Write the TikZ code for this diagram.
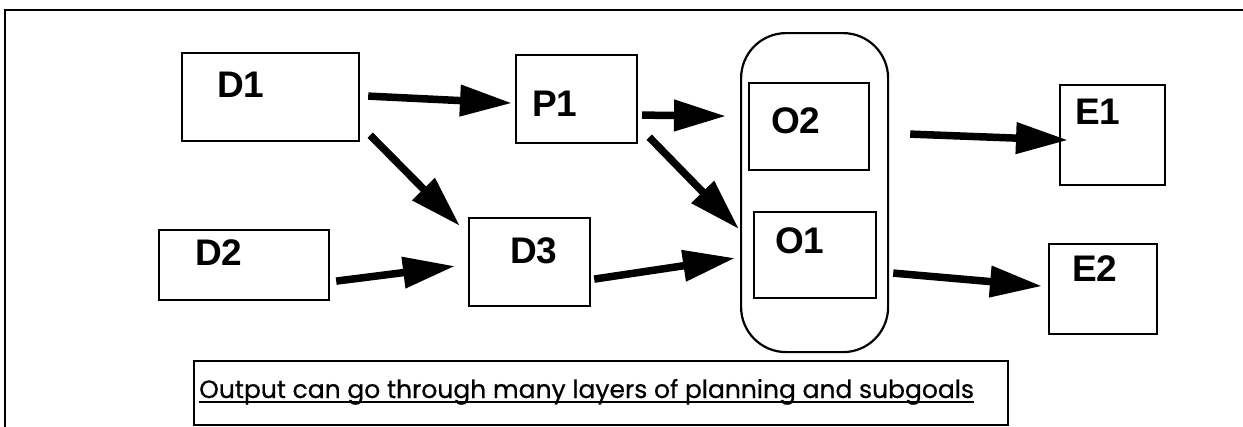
\documentclass[tikz,border=0pt]{standalone}
\usepackage{fontspec}
\setmainfont{Liberation Sans}
\newfontfamily\capfont[FakeBold=0.6]{Poppins}
\usetikzlibrary{arrows.meta,calc}
\begin{document}
\begin{tikzpicture}[x=1pt,y=-1pt,
  box/.style={draw,line width=2.2pt,inner sep=0pt,anchor=north west},
  lbl/.style={anchor=base west,inner sep=0pt,font=\fontsize{37}{40}\selectfont\bfseries},
  arr/.style={line width=7.5pt,-{Triangle[length=52pt,width=30pt]}}]
\useasboundingbox (0,0) rectangle (1243,426);
% outer frame (left and top edges visible)
\draw[line width=2.5pt] (5,440) -- (5,10) -- (1260,10);
% boxes
\node[box,minimum width=177pt,minimum height=88pt] (D1) at (181,52) {};
\node[box,minimum width=121pt,minimum height=88pt] (P1) at (515,54) {};
\node[box,minimum width=147pt,minimum height=319pt,rounded corners=45pt] (C) at (740,32) {};
\node[box,minimum width=120pt,minimum height=87pt] (O2) at (748,82) {};
\node[box,minimum width=122pt,minimum height=86pt] (O1) at (753,211) {};
\node[box,minimum width=121pt,minimum height=88pt] (D3) at (468,217) {};
\node[box,minimum width=170pt,minimum height=70pt] (D2) at (158,229) {};
\node[box,minimum width=105pt,minimum height=100pt] (E1) at (1059,84) {};
\node[box,minimum width=108pt,minimum height=90pt] (E2) at (1048,243) {};
\node[box,minimum width=814pt,minimum height=64pt] (Cap) at (193,360) {};
% labels
\node[lbl] (tD1) at (217,97) {D1};
\node[lbl] (tP1) at (532,116) {P1};
\node[lbl] (tO2) at (771,133) {O2};
\node[lbl] (tO1) at (775,253) {O1};
\node[lbl] (tD3) at (510,263) {D3};
\node[lbl] (tD2) at (195,265) {D2};
\node[lbl] (tE1) at (1075,124) {E1};
\node[lbl] (tE2) at (1072,281) {E2};
\node[anchor=base west,inner sep=0pt,font=\capfont\fontsize{25}{28}\selectfont] (tCap) at (199,398) {Output can go through many layers of planning and subgoals};
\draw[line width=2pt] ([yshift=-3.5pt]tCap.base west) -- ([yshift=-3.5pt]tCap.base east);
% arrows
\draw[arr] ($(D1.east)+(8,-1)$) -- ($(P1.west)+(-3,4)$);
\draw[arr] ($(D1.south east)+(10,-7)$) -- ($(D3.north west)+(-8,9)$);
\draw[arr] ($(D2.east)+(6,16)$) -- ($(D3.west)+(-13,4)$);
\draw[arr] ($(P1.east)+(4,16)$) -- ($(O2.west)+(-22,-10.5)$);
\draw[arr] ($(P1.south east)+(11,-7)$) -- ($(O1.west)+(-14,-26)$);
\draw[arr] ($(D3.east)+(3,17)$) -- ($(O1.west)+(-18,3)$);
\draw[arr] ($(O2.east)+(40,7.5)$) -- ($(E1.west)+(9,5)$);
\draw[arr] ($(O1.east)+(16,18)$) -- ($(E2.west)+(-6,-3)$);
\end{tikzpicture}
\end{document}
